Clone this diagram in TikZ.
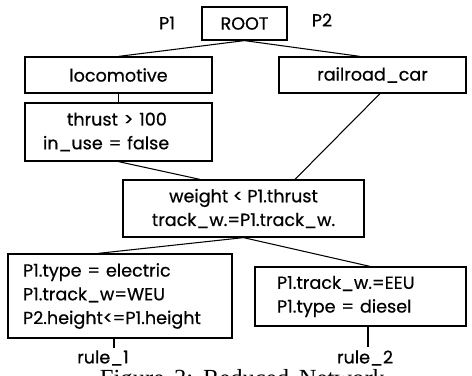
\documentclass[tikz,border=0pt]{standalone}
\usepackage{fontspec}
\setmainfont{Poppins}[FakeBold=0.5]
\newfontfamily\capfont{Liberation Serif}
\begin{document}
\begin{tikzpicture}[
box/.style={
draw,
line width=0.7pt,
inner sep=0pt,
font=\fontsize{10}{13.5}\selectfont
},
lefttext/.style={
align=left,
inner xsep=#1,
inner ysep=0pt
},
label text/.style={font=\fontsize{10}{12}\selectfont},
link/.style={line width=0.6pt}
]
\useasboundingbox (0,0) rectangle (9.44,-7.5);
\node[box, minimum width=1.70cm, minimum height=0.66cm] (root) at (4.89,-0.47) {ROOT};
\node[label text] (p1) at (3.34,-0.46) {P1};
\node[label text] (p2) at (6.44,-0.40) {P2};
\node[box, minimum width=3.74cm, minimum height=0.72cm] (loco) at (2.37,-1.50) {locomotive};
\node[box, minimum width=3.74cm, minimum height=0.72cm] (rail) at (7.45,-1.50) {railroad\_car};
\node[box, lefttext=0.36cm, text width=3.02cm, minimum height=1.16cm] (thrust) at (2.37,-2.64)
{\hspace*{0.48cm}thrust > 100\\in\_use = false};
\node[box, align=center, minimum width=4.82cm, minimum height=1.14cm] (weight) at (4.87,-4.17)
{weight < P1.thrust\\track\_w.=P1.track\_w.};
\node[box, lefttext=0.30cm, text width=3.88cm, minimum height=1.68cm] (lrule) at (2.40,-5.92)
{P1.type = electric\\P1.track\_w=WEU\\P2.height<=P1.height};
\node[box, lefttext=0.44cm, text width=3.34cm, minimum height=1.18cm] (rrule) at (7.21,-5.93)
{P1.track\_w.=EEU\\P1.type = diesel};
\node[label text] (rule1) at (2.06,-7.16) {rule\_1};
\node[label text] (rule2) at (7.30,-7.16) {rule\_2};
\coordinate (r1) at (2.28,-6.96);
\coordinate (r2) at (7.36,-6.94);
\draw[link] (root.south) -- (loco.north);
\draw[link] (root.south) -- ([xshift=-0.25cm]rail.north);
\draw[link] (loco.south) -- (thrust.north);
\draw[link] (thrust.south) -- ([xshift=-0.87cm]weight.north);
\draw[link] ([xshift=0.15cm]rail.south) -- ([xshift=1.03cm]weight.north);
\draw[link] (weight.south) -- ([xshift=-0.44cm]lrule.north);
\draw[link] (weight.south) -- ([xshift=0.19cm]rrule.north);
\draw[link] (lrule.south -| r1) -- (r1);
\draw[link] (rrule.south -| r2) -- (r2);
\node[font=\capfont\fontsize{14}{16}\selectfont, anchor=base] (caption) at (4.85,-7.72)
{Figure\hspace{0.4em}3:\hspace{0.4em}Reduced\hspace{0.4em}Network};
\end{tikzpicture}
\end{document}
